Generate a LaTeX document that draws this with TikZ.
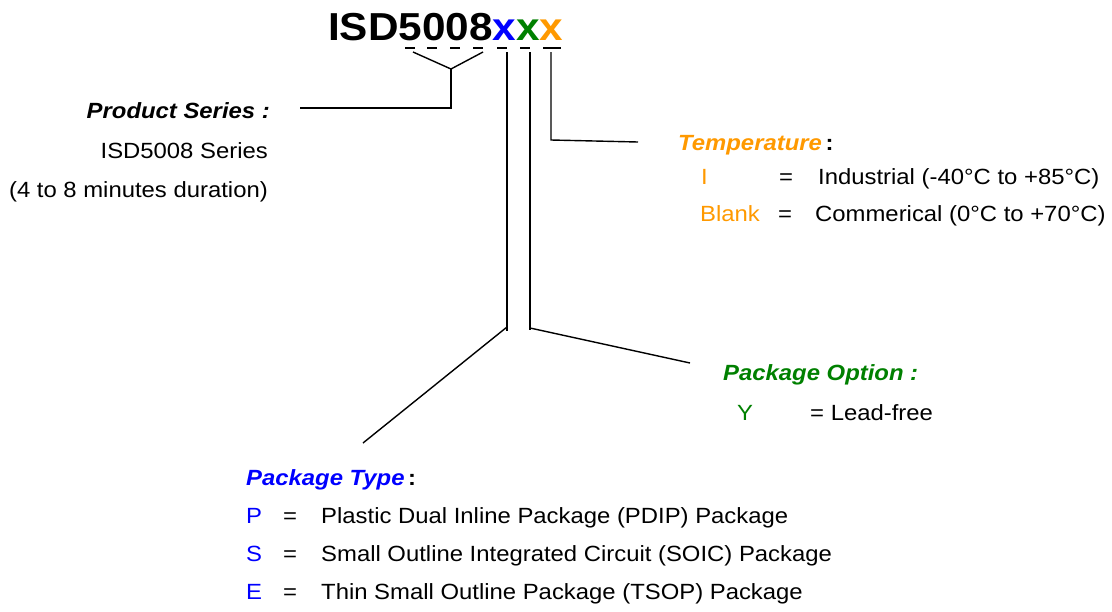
\documentclass[tikz,border=0pt]{standalone}
\usepackage{fontspec}
\setmainfont{Liberation Sans}[FakeStretch=1.085]
\usepackage{xcolor}
\usetikzlibrary{positioning, calc}

\definecolor{typeblue}{RGB}{0,0,255}
\definecolor{optgreen}{RGB}{0,128,0}
\definecolor{temporange}{RGB}{255,153,0}

\tikzset{
  txt/.style={font=\fontsize{22}{26}\selectfont, inner sep=0pt},
  head/.style={font=\fontsize{22}{26}\selectfont\bfseries\itshape, inner sep=0pt},
  lead/.style={line width=1.4pt},
}

\begin{document}
\begin{tikzpicture}[x=1pt, y=-1pt]
      \useasboundingbox (0,0) rectangle (1112,611);

      % part number
      \node[anchor=base west, inner sep=0pt, font=\fontsize{39}{44}\selectfont\bfseries] (title) at (328,40)
        {ISD5008\textcolor{typeblue}{x}\textcolor{optgreen}{x}\textcolor{temporange}{x}};
      \foreach \a/\b in {405/415, 427/437, 450/460, 473/483, 497/507, 520/530, 543/561}
        \draw[lead] (\a,48) -- (\b,48);

      % product series
      \node[head, anchor=base east] (series) at (270,118) {Product Series :};
      \node[txt, anchor=base east] (seriesA) at (268,158) {ISD5008 Series};
      \node[txt, anchor=base east] (seriesB) at (268,197) {(4 to 8 minutes duration)};
      \coordinate (vl) at (413,52);
      \coordinate (vr) at (483,52);
      \coordinate (vm) at (451,69);
      \coordinate (vb) at (451,108);
      \coordinate (sEnd) at (300,108);
      \draw[lead] (vl) -- (vm) -- (vr);
      \draw[lead] (vm) -- (vb) -- (sEnd);

      % temperature
      \node[head, anchor=base west] (temp) at (678,150) {\textcolor{temporange}{Temperature}\,\upshape :};
      \node[txt, anchor=base west, text=temporange] (tI) at (701,184) {I};
      \node[txt, anchor=base] (tIeq) at (786,184) {=};
      \node[txt, anchor=base west] (tIdesc) at (818,184) {Industrial (-40°C to +85°C)};
      \node[txt, anchor=base west, text=temporange] (tB) at (700,221) {Blank};
      \node[txt, anchor=base] (tBeq) at (785,221) {=};
      \node[txt, anchor=base west] (tBdesc) at (815,221) {Commerical (0°C to +70°C)};
      \coordinate (oTop) at (551,52);
      \coordinate (oCorner) at (551,140);
      \coordinate (oEnd) at (638,142);
      \draw[lead] (oTop) -- (oCorner) -- (oEnd);

      % package option
      \node[head, anchor=base west, text=optgreen] (opt) at (723,380) {Package Option :};
      \node[txt, anchor=base west, text=optgreen] (optY) at (737,420) {Y};
      \node[txt, anchor=base west] (optYdesc) at (810,420) {= Lead-free};
      \coordinate (gTop) at (530,52);
      \coordinate (gCorner) at (530,330);
      \coordinate (gEnd) at (690,363);
      \draw[lead] (gTop) -- (gCorner);
      \draw[lead] (530,328) -- (gEnd);

      % package type
      \node[head, anchor=base west] (ptype) at (246,485) {\textcolor{typeblue}{Package Type}\,\upshape :};
      \foreach \k/\y/\d in {P/523/Plastic Dual Inline Package (PDIP) Package,
                            S/561/Small Outline Integrated Circuit (SOIC) Package,
                            E/599/Thin Small Outline Package (TSOP) Package} {
        \node[txt, anchor=base west, text=typeblue] (t\k) at (246,\y) {\k};
        \node[txt, anchor=base] (t\k eq) at (290,\y) {=};
        \node[txt, anchor=base west] (t\k desc) at (321,\y) {\d};
      }
      \coordinate (bTop) at (507,52);
      \coordinate (bCorner) at (507,331);
      \coordinate (bEnd) at (363,443);
      \draw[lead] (bTop) -- (bCorner);
      \draw[lead] (507,327) -- (bEnd);
\end{tikzpicture}
\end{document}
